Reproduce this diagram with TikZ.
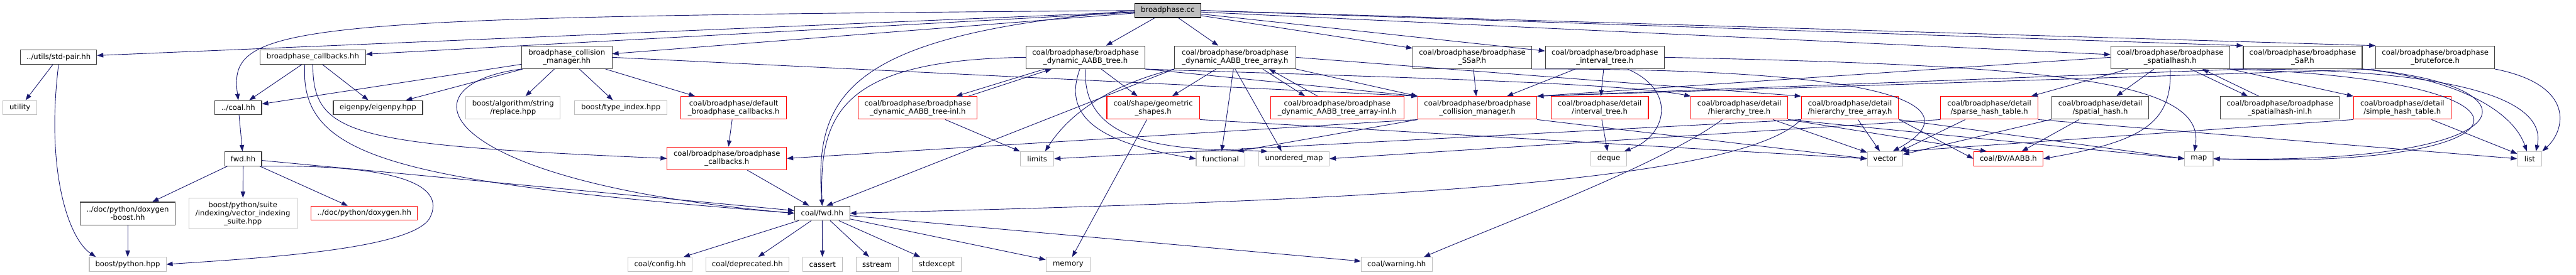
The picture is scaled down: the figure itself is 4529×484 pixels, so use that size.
\documentclass[tikz,border=0pt]{standalone}
\usepackage{fontspec}
\setmainfont{DejaVu Sans}
\usetikzlibrary{arrows.meta}
\definecolor{edgeblue}{HTML}{191970}
\definecolor{boxline}{HTML}{404040}
\definecolor{sysline}{HTML}{BFBFBF}
\definecolor{rootfill}{HTML}{BFBFBF}
\tikzset{
  hdr/.style={draw=boxline,line width=1.2pt,fill=white,inner sep=0pt,align=center,minimum height=25pt},
  trunc/.style={hdr,draw=red},
  sys/.style={hdr,draw=sysline},
  edge/.style={draw=edgeblue,line width=1pt,-{Triangle[length=11pt,width=8pt]}}
}
\begin{document}
\begin{tikzpicture}[x=1pt,y=-1pt,font={\fontsize{12.9}{14.3}\selectfont}]
\fill[white] (0,0) rectangle (4529,484);
\useasboundingbox (0,0) rectangle (4529,484);
\node[hdr,draw=black,fill=rootfill,minimum width=116pt] (root) at (2053,18.5) {broadphase.cc};
\node[hdr,minimum width=134pt] (stdpair) at (103,100.5) {../utils/std-pair.hh};
\node[hdr,minimum width=186pt] (cbhh) at (550,100.5) {broadphase\_callbacks.hh};
\node[hdr,minimum width=82pt] (coalhh) at (419,189.5) {../coal.hh};
\node[hdr,minimum width=65pt] (pyfwd) at (427.5,279.5) {fwd.hh};
\node[hdr,minimum width=167pt,minimum height=40pt] (doxboost) at (224.5,376) {../doc/python/doxygen\\-boost.hh};
\node[sys,minimum width=190pt,minimum height=54pt] (vecsuite) at (427,376) {boost/python/suite\\/indexing/vector\_indexing\\\_suite.hpp};
\node[trunc,minimum width=187pt] (doxhh) at (640.5,375.5) {../doc/python/doxygen.hh};
\node[sys,minimum width=135pt] (bpython) at (224.5,465.5) {boost/python.hpp};
\node[hdr,minimum width=159pt,minimum height=40pt] (cmhh) at (996.5,101) {broadphase\_collision\\\_manager.hh};
\node[hdr,minimum width=157pt] (eigenpy) at (664.5,189.5) {eigenpy/eigenpy.hpp};
\node[sys,minimum width=166pt,minimum height=40pt] (replace) at (902,190) {boost/algorithm/string\\/replace.hpp};
\node[sys,minimum width=163pt] (typeidx) at (1091.5,189.5) {boost/type\_index.hpp};
\node[sys,minimum width=113pt] (config) at (1160.5,465.5) {coal/config.hh};
\node[trunc,minimum width=186pt,minimum height=40pt] (defcb) at (1290,190) {coal/broadphase/default\\\_broadphase\_callbacks.h};
\node[trunc,minimum width=209pt,minimum height=40pt] (treeinl) at (1613.5,190) {coal/broadphase/broadphase\\\_dynamic\_AABB\_tree-inl.h};
\node[trunc,minimum width=210pt,minimum height=40pt] (bcb) at (1278,279) {coal/broadphase/broadphase\\\_callbacks.h};
\node[hdr,minimum width=97pt] (coalfwd) at (1445.5,375.5) {coal/fwd.hh};
\node[sys,minimum width=146pt] (deprecated) at (1314,465.5) {coal/deprecated.hh};
\node[hdr,minimum width=209pt,minimum height=40pt] (tree) at (1908.5,101) {coal/broadphase/broadphase\\\_dynamic\_AABB\_tree.h};
\node[hdr,minimum width=213pt,minimum height=40pt] (treearr) at (2171.5,101) {coal/broadphase/broadphase\\\_dynamic\_AABB\_tree\_array.h};
\node[trunc,minimum width=163pt,minimum height=40pt] (geom) at (2027.5,190) {coal/shape/geometric\\\_shapes.h};
\node[trunc,minimum width=234pt,minimum height=40pt] (arrinl) at (2351,190) {coal/broadphase/broadphase\\\_dynamic\_AABB\_tree\_array-inl.h};
\node[hdr,minimum width=209pt,minimum height=40pt] (ssap) at (2588.5,101) {coal/broadphase/broadphase\\\_SSaP.h};
\node[hdr,minimum width=209pt,minimum height=40pt] (intv) at (2821.5,101) {coal/broadphase/broadphase\\\_interval\_tree.h};
\node[trunc,minimum width=209pt,minimum height=40pt] (cmh) at (2597.5,190) {coal/broadphase/broadphase\\\_collision\_manager.h};
\node[trunc,minimum width=171pt,minimum height=40pt] (dintv) at (2812.5,190) {coal/broadphase/detail\\/interval\_tree.h};
\node[sys,minimum width=125pt] (warning) at (2455.5,465.5) {coal/warning.hh};
\node[trunc,minimum width=170pt,minimum height=40pt] (htree) at (3058,190) {coal/broadphase/detail\\/hierarchy\_tree.h};
\node[trunc,minimum width=171pt,minimum height=40pt] (htarr) at (3252.5,190) {coal/broadphase/detail\\/hierarchy\_tree\_array.h};
\node[hdr,minimum width=209pt,minimum height=40pt] (shash) at (3815.5,101) {coal/broadphase/broadphase\\\_spatialhash.h};
\node[trunc,minimum width=171pt,minimum height=40pt] (sparse) at (3497.5,190) {coal/broadphase/detail\\/sparse\_hash\_table.h};
\node[hdr,minimum width=171pt,minimum height=40pt] (spatial) at (3692.5,190) {coal/broadphase/detail\\/spatial\_hash.h};
\node[hdr,minimum width=209pt,minimum height=40pt] (shinl) at (4008.5,190) {coal/broadphase/broadphase\\\_spatialhash-inl.h};
\node[trunc,minimum width=122pt] (aabb) at (3531,279.5) {coal/BV/AABB.h};
\node[hdr,minimum width=209pt,minimum height=40pt] (sap) at (4048.5,101) {coal/broadphase/broadphase\\\_SaP.h};
\node[hdr,minimum width=209pt,minimum height=40pt] (brute) at (4281.5,101) {coal/broadphase/broadphase\\\_bruteforce.h};
\node[trunc,minimum width=171pt,minimum height=40pt] (simple) at (4223.5,190) {coal/broadphase/detail\\/simple\_hash\_table.h};
\foreach \n/\t/\x/\y/\w in {utility/utility/35/189.5/60, cassert/cassert/1446/465.5/70,
    sstream/sstream/1542/465.5/74, stdexcept/stdexcept/1647/465.5/86, memory/memory/1878/465.5/78,
    limits/limits/1823.5/279.5/59, functional/functional/2146/279.5/86, umap/unordered\_map/2275/279.5/124,
    deque/deque/2828.5/279.5/63, vector/vector/3314/279.5/62, map/map/3866/279.5/50, list/list/4447.5/279.5/43}
  \node[sys,minimum width=\w pt] (\n) at (\x,\y) {\t};
\foreach \a/\b in {root/stdpair, root/cbhh, root/cmhh, root/tree, root/treearr, root/ssap, root/intv, root/shash,
    root.east/sap.north west, root.east/brute.north west,
    stdpair/utility, cbhh/coalhh, cbhh/eigenpy, coalhh/pyfwd, pyfwd/doxboost, pyfwd/vecsuite, pyfwd/doxhh,
    pyfwd/coalfwd, doxboost/bpython,
    cmhh/coalhh, cmhh/eigenpy, cmhh/replace, cmhh/typeidx, cmhh/defcb, cmhh.east/cmh.north west,
    defcb/bcb, bcb/coalfwd,
    coalfwd/config, coalfwd/deprecated, coalfwd/cassert, coalfwd/sstream, coalfwd/stdexcept, coalfwd/memory, coalfwd/warning,
    tree/geom, tree.south east/cmh.north west, tree.196/treeinl.17, treeinl.13/tree.199, treeinl/limits,
    treearr/geom, treearr/functional, treearr.south/umap.149, treearr.337/arrinl.160, arrinl.149/treearr.341,
    treearr.south east/cmh.north west, treearr.east/htarr.north west, treearr.south west/coalfwd.60,
    geom/memory, geom.south east/vector.west,
    cmh.south west/bcb.east, cmh.south west/functional.24, cmh.south east/vector.west,
    ssap/cmh, intv/dintv, intv/cmh, dintv/deque,
    htree/vector, htree.south east/map.west, htree.south east/aabb.161,
    htarr/vector, htarr.south east/aabb.west, htarr.south east/map.west, htarr.south west/limits.east,
    shash/sparse, shash/spatial, shash.330/shinl.160, shinl.151/shash.340, shash.south east/simple.north west,
    shash.west/cmh.north east,
    sparse.south west/umap.east, sparse/vector, sparse.south east/list.west,
    spatial/aabb, spatial/vector, simple/list, simple.south west/vector.north east,
    sap.south west/cmh.north east, brute.south west/cmh.north east}
  \draw[edge] (\a) -- (\b);
\draw[edge] (root.west) .. controls (500,30) and (400,40) .. (coalhh.north);
\draw[edge] (root.west) .. controls (1500,60) and (1430,160) .. (coalfwd.north);
\draw[edge] (tree.west) .. controls (1480,105) and (1440,200) .. (coalfwd.north);
\draw[edge] (cmhh.south west) .. controls (700,150) and (760,320) .. (coalfwd.west);
\draw[edge] (cbhh.south) .. controls (550,240) and (620,255) .. (bcb.west);
\draw[edge] ([xshift=-14pt]cbhh.south) .. controls (525,280) and (700,320) .. (coalfwd.west);
\draw[edge] (pyfwd.south east) .. controls (680,290) and (790,320) .. (755,385)
  .. controls (720,440) and (450,455) .. (bpython.east);
\draw[edge] (stdpair.south) .. controls (80,300) and (120,420) .. ([xshift=12pt]bpython.north west);
\draw[edge] ([xshift=-10pt]tree.south) .. controls (1870,200) and (1920,250) .. (functional.west);
\draw[edge] (tree.south) .. controls (1900,270) and (2100,262) .. ([xshift=16pt]umap.north west);
\draw[edge] (treearr.south west) .. controls (1950,150) and (1880,200) .. ([xshift=14pt]limits.north);
\draw[edge] (tree.south east) .. controls (2400,135) and (2850,145) .. (htree.north west);
\draw[edge] (htarr.south west) .. controls (3050,330) and (2300,355) .. (coalfwd.east);
\draw[edge] ([xshift=-30pt]htree.south) .. controls (2920,290) and (2650,390) .. ([xshift=-15pt]warning.north east);
\draw[edge] ([xshift=40pt]intv.south) .. controls (2950,160) and (2930,240) .. ([xshift=-5pt]deque.north east);
\draw[edge] (ssap.south east) .. controls (3400,120) and (3450,200) .. ([xshift=14pt]vector.north);
\draw[edge] (shash.south) .. controls (3820,220) and (3760,250) .. (aabb.east);
\draw[edge] (intv.east) .. controls (3600,115) and (3880,140) .. ([xshift=-8pt]map.north);
\draw[edge] (sap.south east) .. controls (4480,150) and (4450,290) .. (map.east);
\draw[edge] (shash.south east) .. controls (4520,140) and (4470,300) .. (map.east);
\draw[edge] (brute.south east) .. controls (4530,150) and (4510,230) .. (list.north east);
\draw[edge] (sap.south east) .. controls (4330,140) and (4420,200) .. ([xshift=-5pt]list.north);
\draw[edge] (shash.south east) .. controls (4300,120) and (4480,170) .. ([xshift=11pt]list.north);
\end{tikzpicture}
\end{document}
